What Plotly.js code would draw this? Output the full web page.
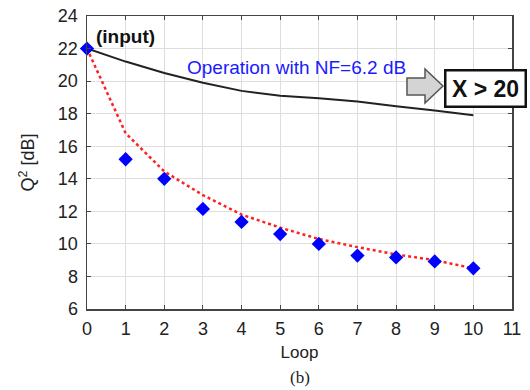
<!DOCTYPE html>
<html>
<head>
<meta charset="utf-8">
<script src="https://cdn.plot.ly/plotly-3.0.1.min.js"></script>
<style>html,body{margin:0;padding:0;background:#fff}#chart{width:530px;height:390px}</style>
</head>
<body>
<div id="chart"></div>
<script>
const loops = [0,1,2,3,4,5,6,7,8,9,10];
const nfLine = [22, 21.2, 20.5, 19.9, 19.4, 19.1, 18.95, 18.75, 18.45, 18.2, 17.9];
const fitLine = [22, 16.8, 14.45, 13.0, 11.8, 11.0, 10.3, 9.8, 9.35, 9.0, 8.5];
const measured = [22, 15.2, 14.0, 12.15, 11.35, 10.6, 10.0, 9.28, 9.17, 8.92, 8.5];
const xTicks = [0,1,2,3,4,5,6,7,8,9,10,11];
const yTicks = [6,8,10,12,14,16,18,20,22,24];

const W = 530, H = 390, L = 87, R = 18, T = 16, B = 81;
const pw = W - L - R, ph = H - T - B;
const px = x => ((x - L) / pw).toFixed(4);
const py = y => ((H - B - y) / ph).toFixed(4);
const arrowPts = [[407,78],[425,78],[425,69],[443,86],[425,103],[425,95],[407,95]];
const arrowPath = 'M' + arrowPts.map(p => px(p[0]) + ',' + py(p[1])).join(' L') + ' Z';

const font = 'Liberation Sans, Arial, sans-serif';
const traces = [
  {x: loops, y: nfLine, mode: 'lines', line: {color: '#222', width: 2}, hoverinfo: 'skip'},
  {x: loops, y: fitLine, mode: 'lines', line: {color: '#ff2020', width: 2.5, dash: 'dot'}, hoverinfo: 'skip'},
  {x: loops, y: measured, mode: 'markers', marker: {symbol: 'diamond', size: 11, color: '#0000ff'}, cliponaxis: false}
];

const axisCommon = {
  showgrid: true, gridcolor: '#dedede', gridwidth: 1,
  showline: true, linecolor: '#444', linewidth: 1.5, mirror: 'ticks',
  ticks: 'inside', ticklen: 4, tickcolor: '#444',
  tickfont: {family: font, size: 18, color: '#222'},
  zeroline: false, fixedrange: true
};

const layout = {
  width: W, height: H,
  margin: {l: L, r: R, t: T, b: B},
  paper_bgcolor: '#fff', plot_bgcolor: '#fff',
  showlegend: false,
  xaxis: Object.assign({}, axisCommon, {
    range: [0, 11], tickvals: xTicks, ticklabelstandoff: 3,
    title: {text: 'Loop', font: {family: font, size: 17, color: '#222'}, standoff: 8}
  }),
  yaxis: Object.assign({}, axisCommon, {
    range: [6, 24], tickvals: yTicks, ticklabelstandoff: 4,
    title: {text: 'Q<sup>2</sup> [dB]', font: {family: font, size: 18, color: '#222'}, standoff: 18}
  }),
  annotations: [
    {x: 1.0, y: 22.75, xref: 'x', yref: 'y', text: '<b>(input)</b>', showarrow: false,
     font: {family: font, size: 19, color: '#111'}},
    {x: 5.41, y: 20.85, xref: 'x', yref: 'y', text: 'Operation with NF=6.2 dB', showarrow: false,
     font: {family: font, size: 19, color: '#1a1aff'}},
    {x: px(485), y: py(88.5), xref: 'paper', yref: 'paper', text: '<b>X &gt; 20</b>', showarrow: false,
     width: 72, height: 28,
     font: {family: font, size: 23, color: '#111'}, bgcolor: '#fff', bordercolor: '#111', borderwidth: 2.5, borderpad: 3,
     xanchor: 'center', yanchor: 'middle'},
    {x: 0.5, y: -0.235, xref: 'paper', yref: 'paper', text: '(b)', showarrow: false,
     font: {family: 'Liberation Serif, Times New Roman, serif', size: 17, color: '#222'}, yanchor: 'middle'}
  ],
  shapes: [
    {type: 'path', xref: 'paper', yref: 'paper', path: arrowPath, fillcolor: '#d4d4d4', line: {color: '#555', width: 1.5}}
  ]
};

Plotly.newPlot('chart', traces, layout, {displayModeBar: false, staticPlot: true});
</script>
</body>
</html>
